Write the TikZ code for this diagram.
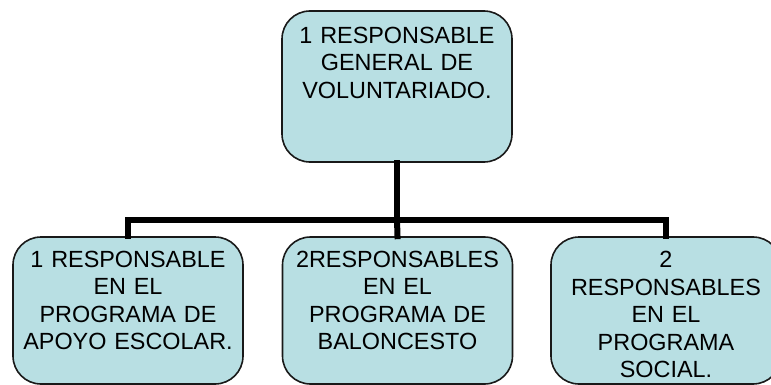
\documentclass[tikz,border=0pt]{standalone}
\usepackage{fontspec}
\setmainfont{Liberation Sans}
\definecolor{boxfill}{RGB}{184,223,227}
\tikzset{
  x=1pt, y=-1pt,
  orgbox/.style={draw=black!90, line width=1.6pt, fill=boxfill, rounded corners=28pt,
    minimum width=230pt, inner sep=0pt},
  orgtext/.style={anchor=north, inner sep=0pt, text width=228pt, align=center,
    font=\fontsize{23.4}{27.6}\selectfont},
  conn/.style={line width=6pt, line join=miter, line cap=rect}
}
\begin{document}
\begin{tikzpicture}
\useasboundingbox (0,0) rectangle (771,385);
\clip (0,0) rectangle (771,385);
% boxes
\node[orgbox, minimum height=151pt] (top) at (397,86.5) {};
\node[orgbox, minimum height=147pt] (b1) at (128,310.5) {};
\node[orgbox, minimum height=147pt] (b2) at (397.5,310.5) {};
\node[orgbox, minimum height=147pt] (b3) at (666,310.5) {};
% connectors
\coordinate (j) at (397,220);
\coordinate (jl) at (128,220);
\coordinate (jr) at (666,220);
\draw[conn] (top.south) -- (j);
\draw[conn] (b1.north) -- (jl) -- (jr) -- (b3.north);
\draw[conn] (j) -- (b2.north);
% texts
\node[orgtext] (toptxt) at (397,26.5) {1 RESPONSABLE\\GENERAL DE\\VOLUNTARIADO.};
\node[orgtext] (b1txt) at (128,250.5) {1 RESPONSABLE\\EN EL\\PROGRAMA DE\\APOYO ESCOLAR.};
\node[orgtext] (b2txt) at (397.5,250.5) {2RESPONSABLES\\EN EL\\PROGRAMA DE\\BALONCESTO};
\node[orgtext] (b3txt) at (666,251) {2\\RESPONSABLES\\EN EL\\PROGRAMA\\SOCIAL.};
\end{tikzpicture}
\end{document}
